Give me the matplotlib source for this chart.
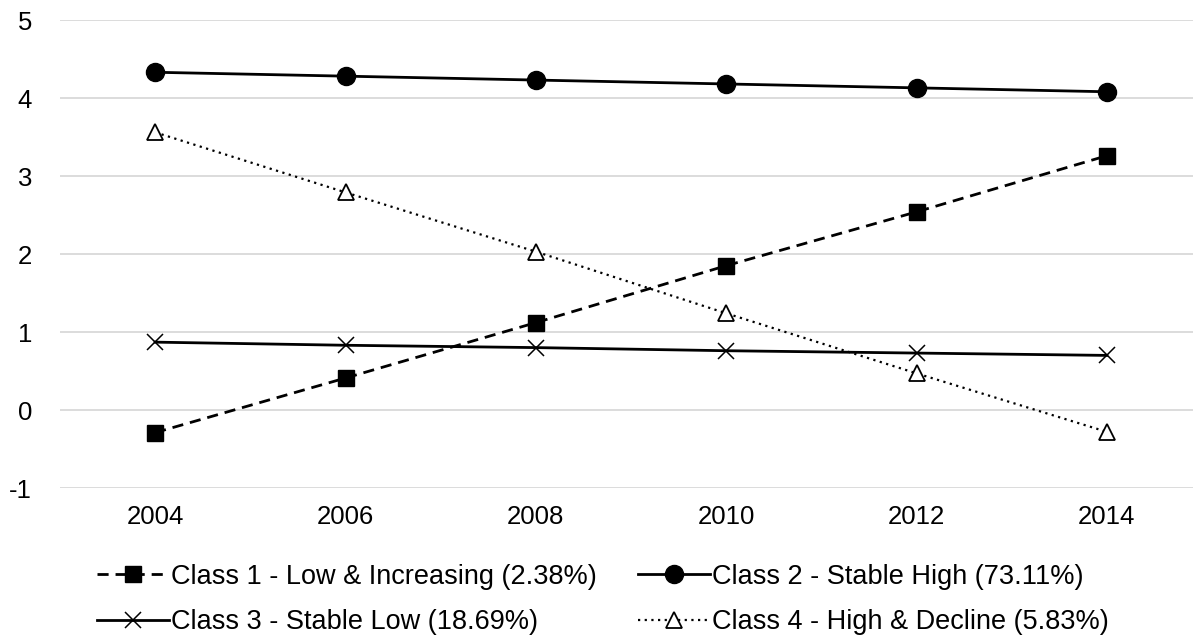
import matplotlib
matplotlib.use("Agg")
import matplotlib.pyplot as plt

plt.rcParams["font.family"] = ["Liberation Sans", "DejaVu Sans"]
plt.rcParams["axes.unicode_minus"] = False

years = [2004, 2006, 2008, 2010, 2012, 2014]
class1 = [-0.29, 0.41, 1.12, 1.85, 2.54, 3.26]
class2 = [4.33, 4.28, 4.23, 4.18, 4.13, 4.08]
class3 = [0.87, 0.83, 0.80, 0.76, 0.73, 0.70]
class4 = [3.56, 2.79, 2.03, 1.24, 0.47, -0.28]
labels = [
    "Class 1 - Low & Increasing (2.38%)",
    "Class 2 - Stable High (73.11%)",
    "Class 3 - Stable Low (18.69%)",
    "Class 4 - High & Decline (5.83%)",
]

W, H = 1193, 642
fig = plt.figure(figsize=(W / 100, H / 100), dpi=100)
ax = fig.add_axes([60 / W, (H - 488) / H, 1142 / W, 468 / H])

l1, = ax.plot(years, class1, ls=(0, (4, 2.5)), lw=2.0, color="black",
              marker="s", ms=11.5, label=labels[0])
l2, = ax.plot(years, class2, ls="-", lw=2.0, color="black",
              marker="o", ms=13, label=labels[1])
l3, = ax.plot(years, class3, ls="-", lw=2.0, color="black",
              marker="x", ms=11, mew=1.1, label=labels[2])
l4, = ax.plot(years, class4, ls=(0, (1, 2)), lw=1.6, color="black",
              marker="^", ms=12, mfc="white", mec="black", mew=1.3, label=labels[3])

ax.set_xlim(2003, 2015)
ax.set_ylim(-1, 5)
ax.set_xticks(years)
ax.set_yticks(range(-1, 6))
ax.grid(axis="y", color="#d9d9d9", lw=1.3)
ax.set_axisbelow(True)
for s in ax.spines.values():
    s.set_visible(False)
ax.tick_params(length=0, labelsize=18.5, colors="black")
ax.tick_params(axis="y", pad=20)
ax.tick_params(axis="x", pad=12)

# ncol=2 fills column-wise, so order handles to get the row-wise layout
fig.legend([l1, l3, l2, l4], [labels[0], labels[2], labels[1], labels[3]],
           loc="center", ncol=2, frameon=False,
           bbox_to_anchor=(603 / W, 1 - 599.5 / H), fontsize=19.5,
           handlelength=2.65, handletextpad=0.1, columnspacing=1.5,
           labelspacing=0.72, numpoints=1)

fig.savefig("out.png", dpi=100)
